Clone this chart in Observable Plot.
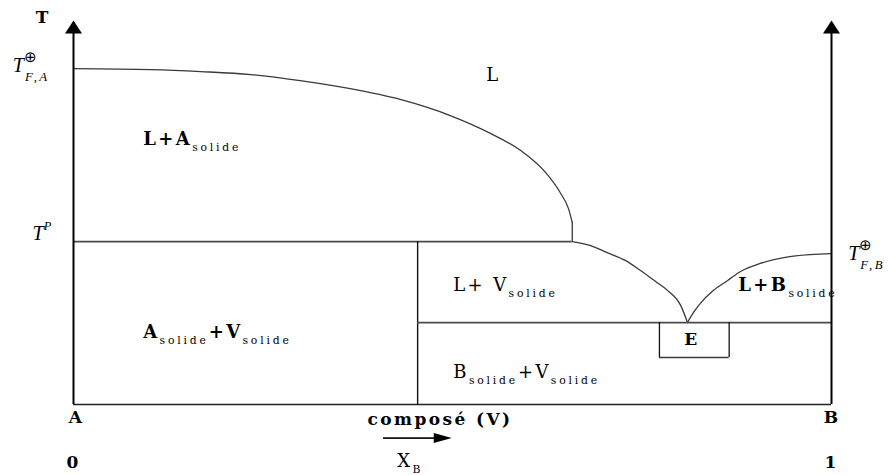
<!DOCTYPE html>
<html>
<head>
<meta charset="utf-8">
<script src="https://cdn.jsdelivr.net/npm/d3@7"></script>
<script src="https://cdn.jsdelivr.net/npm/@observablehq/plot@0.6"></script>
<style>
  body { margin: 0; background: #fff; }
</style>
</head>
<body>
<div id="chart"></div>
<script>
// Binary phase diagram A–B with an incongruently melting compound V.
// x = mole fraction x_B (0 = pure A, 1 = pure B), y = temperature (arbitrary units, T_F,A = 100)

const tFusionA = 100;     // melting point of A
const tPeritectic = 48.5; // T^P, decomposition of V
const tMonotectic = 54.2; // end of the A liquidus
const tEutectic = 24.4;   // eutectic E
const tFusionB = 44.9;    // melting point of B
const tAxisTop = 114.3;

const xCompound = 0.454;   // composition of V
const xPeritectic = 0.658;
const boxEx = [0.773, 0.865];
const boxEBottom = 14.0;

// liquidus curves [x_B, T]
const liquidusA = [
  [0, 100], [0.102, 99.7], [0.168, 99.1], [0.234, 98.2], [0.299, 96.4],
  [0.365, 94.0], [0.431, 90.8], [0.497, 86.0], [0.550, 80.7], [0.590, 75.6],
  [0.623, 69.0], [0.642, 63.1], [0.653, 58.3], [0.658, 54.2]
];
const liquidusV = [
  [0.658, 48.5], [0.682, 47.3], [0.704, 45.2], [0.728, 42.9], [0.748, 39.9],
  [0.768, 36.6], [0.784, 33.9], [0.801, 29.5], [0.810, 24.4]
];
const liquidusB = [
  [0.810, 24.4], [0.818, 27.4], [0.827, 30.1], [0.844, 33.9], [0.863, 36.9],
  [0.880, 39.6], [0.906, 42.0], [0.939, 43.8], [0.972, 44.6], [1, 44.9]
];

// text labels (x_B, T)
const boldRegions = [
  {text: "L+A_{solide}", x: 0.092, t: 78.9},
  {text: "A_{solide}+V_{solide}", x: 0.092, t: 21.4},
  {text: "L+B_{solide}", x: 0.877, t: 35.4}
];
const liquidLabel = [{text: "L", x: 0.554, t: 97.9}];
const plainRegions = [
  {text: "L+ V_{solide}", x: 0.501, t: 35.4},
  {text: "B_{solide}+V_{solide}", x: 0.501, t: 9.5}
];
const eutecticLabel = [{text: "E", x: 0.816, t: 19.3}];
const tempLabels = [
  {text: "T^{⊕}_{F,A}", x: -0.080, t: 100.9},
  {text: "T^{P}", x: -0.054, t: 50.9},
  {text: "T^{⊕}_{F,B}", x: 1.022, t: 44.9}
];
const axisTitle = [{text: "T", x: -0.040, t: 115.3}];
const endLabels = [
  {text: "A", x: 0.004, t: -3.9},
  {text: "B", x: 1.001, t: -3.9},
  {text: "0", x: 0, t: -17.3},
  {text: "1", x: 1, t: -17.3}
];
const compoundTitle = [{text: "composé (V)", x: 0.388, t: -4.5}];
const xbLabel = [{text: "X_{B}", x: 0.427, t: -17.0}];
const xbArrow = {x1: 0.409, x2: 0.499, t: -10.0};

// filled arrow heads, tip at the anchor point
const headUp = {draw(ctx) { ctx.moveTo(0, 0); ctx.lineTo(8.5, 13); ctx.lineTo(-8.5, 13); ctx.closePath(); }};
const headRight = {draw(ctx) { ctx.moveTo(0, 0); ctx.lineTo(-18, -5); ctx.lineTo(-18, 5); ctx.closePath(); }};

const serif = "DejaVu Serif";
const lineColor = "#3a3a3a";

const chart = Plot.plot({
  width: 889,
  height: 475,
  marginLeft: 73,
  marginRight: 58,
  marginTop: 20,
  marginBottom: 71,
  x: {domain: [0, 1], axis: null},
  y: {domain: [0, tAxisTop], axis: null},
  marks: [
    // phase boundaries
    Plot.line(liquidusA, {x: d => d[0], y: d => d[1], curve: "monotone-x", stroke: lineColor, strokeWidth: 1.3}),
    Plot.line(liquidusV, {x: d => d[0], y: d => d[1], curve: "monotone-x", stroke: lineColor, strokeWidth: 1.3}),
    Plot.line(liquidusB, {x: d => d[0], y: d => d[1], curve: "monotone-x", stroke: lineColor, strokeWidth: 1.3}),
    Plot.ruleX([xPeritectic], {y1: tPeritectic, y2: tMonotectic, stroke: lineColor, strokeWidth: 1.3}),
    Plot.ruleY([tPeritectic], {x1: 0, x2: xPeritectic, stroke: "#4a4a4a", strokeWidth: 1.7}),
    Plot.ruleX([xCompound], {y1: 0, y2: tPeritectic, stroke: "#111", strokeWidth: 1.4}),
    Plot.ruleY([tEutectic], {x1: xCompound, x2: 1, stroke: "#4a4a4a", strokeWidth: 1.7}),
    Plot.ruleX(boxEx, {y1: boxEBottom, y2: tEutectic, stroke: "#111", strokeWidth: 1.3}),
    Plot.ruleY([boxEBottom], {x1: boxEx[0], x2: boxEx[1], stroke: lineColor, strokeWidth: 1.4}),

    // axes
    Plot.ruleY([0], {x1: 0, x2: 1, stroke: "#222", strokeWidth: 1.6}),
    Plot.ruleX([0, 1], {y1: 0, y2: tAxisTop - 3.5, stroke: "#000", strokeWidth: 2}),
    Plot.dot([0, 1], {x: d => d, y: tAxisTop, symbol: headUp, fill: "#000", stroke: null}),
    Plot.ruleY([xbArrow.t], {x1: xbArrow.x1, x2: xbArrow.x2 - 0.02, stroke: "#111", strokeWidth: 1.6}),
    Plot.dot([xbArrow], {x: "x2", y: "t", symbol: headRight, fill: "#000", stroke: null}),

    // labels
    Plot.text(axisTitle, {x: "x", y: "t", text: "text", fontFamily: serif, fontWeight: "bold", fontSize: 17}),
    Plot.text(tempLabels, {x: "x", y: "t", text: "text", textAnchor: "start", fontFamily: "Liberation Serif", fontStyle: "italic", fontSize: 20}),
    Plot.text(boldRegions, {x: "x", y: "t", text: "text", textAnchor: "start", fontFamily: serif, fontWeight: "bold", fontSize: 18}),
    Plot.text(liquidLabel, {x: "x", y: "t", text: "text", fontFamily: serif, fontSize: 18}),
    Plot.text(plainRegions, {x: "x", y: "t", text: "text", textAnchor: "start", fontFamily: serif, fontSize: 18}),
    Plot.text(eutecticLabel, {x: "x", y: "t", text: "text", fontFamily: serif, fontWeight: "bold", fontSize: 17}),
    Plot.text(endLabels, {x: "x", y: "t", text: "text", fontFamily: serif, fontWeight: "bold", fontSize: 17}),
    Plot.text(compoundTitle, {x: "x", y: "t", text: "text", textAnchor: "start", fontFamily: serif, fontWeight: "bold", fontSize: 17}),
    Plot.text(xbLabel, {x: "x", y: "t", text: "text", textAnchor: "start", fontFamily: serif, fontSize: 18})
  ]
});

document.getElementById("chart").appendChild(chart);

const NS = "http://www.w3.org/2000/svg";
chart.querySelectorAll("text").forEach(el => {
  const italic = getComputedStyle(el).fontStyle === "italic";
  const fs = parseFloat(getComputedStyle(el).fontSize);
  // the serif labels are set wide
  if (!italic) el.setAttribute("letter-spacing", fs >= 17 ? 2.4 : 0);

  // turn "_{...}" and "^{...}" into subscript / superscript tspans
  const src = el.textContent;
  if (!/[_^]\{/.test(src)) return;
  const parts = [];
  const re = /([_^])\{([^}]*)\}|([^_^]+)/g;
  let m;
  while ((m = re.exec(src))) parts.push(m[3] != null ? {kind: "", s: m[3]} : {kind: m[1], s: m[2]});
  el.textContent = "";
  let offset = 0, prev = null, prevNode = null;
  for (const p of parts) {
    const ts = document.createElementNS(NS, "tspan");
    let target = 0;
    if (p.kind === "_") {
      target = fs * (italic ? 0.44 : 0.32);
      ts.setAttribute("font-size", (fs * (italic ? 0.64 : 0.6)).toFixed(1));
      ts.setAttribute("letter-spacing", italic ? 2.5 : 2.8);
      ts.setAttribute("font-weight", "normal");
    } else if (p.kind === "^") {
      target = -fs * 0.48;
      ts.setAttribute("font-size", (fs * (p.s === "⊕" ? 0.75 : 0.62)).toFixed(1));
      if (p.s === "⊕") ts.setAttribute("font-style", "normal");
    }
    if (target !== offset) ts.setAttribute("dy", (target - offset).toFixed(1));
    // a subscript right after a superscript is stacked beneath it
    if (p.kind === "_" && prev && prev.kind === "^") {
      ts.setAttribute("dx", (-prevNode.getComputedTextLength() + 1).toFixed(1));
    }
    offset = target;
    ts.textContent = p.s;
    el.appendChild(ts);
    prev = p; prevNode = ts;
  }
});
</script>
</body>
</html>
